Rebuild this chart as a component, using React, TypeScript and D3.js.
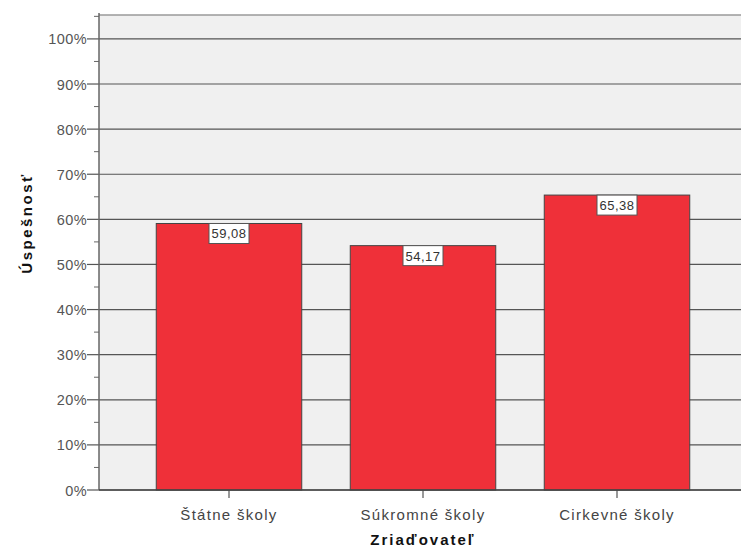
import React from "react";
import * as d3 from "d3";

const categories = ["Štátne školy", "Súkromné školy", "Cirkevné školy"];
const values = [59.08, 54.17, 65.38];
const valueLabels = ["59,08", "54,17", "65,38"];
const yTicks = [0, 10, 20, 30, 40, 50, 60, 70, 80, 90, 100];
const yMinorTicks = [5, 15, 25, 35, 45, 55, 65, 75, 85, 95, 105];

export default function App() {
  const W = 741, H = 550;
  const left = 99, right = 741, top = 15, bottom = 490;
  const y = d3.scaleLinear().domain([0, 105.3]).range([bottom, top]);
  const x = d3.scaleBand<string>().domain(categories).range([132, 714]).paddingInner(0.25).paddingOuter(0.125);
  const font = "Arial, 'Liberation Sans', sans-serif";
  return (
    <svg width={W} height={H} style={{ position: "absolute", left: 0, top: 0 }}>
      <rect x={0} y={0} width={W} height={H} fill="#ffffff" />
      <rect x={left} y={top} width={right - left} height={bottom - top} fill="#f0f0f0" />
      <line x1={left} x2={right} y1={top} y2={top} stroke="#9a9a9a" strokeWidth={1.5} />
      {yTicks.map((t) => (
        <g key={t}>
          <line x1={left} x2={right} y1={y(t)} y2={y(t)} stroke="#555" strokeWidth={1.2} />
          <line x1={87} x2={left} y1={y(t)} y2={y(t)} stroke="#555" strokeWidth={1.2} />
          <text x={87} y={y(t) + 5.5} textAnchor="end" fontFamily={font} fontSize={14.5} fill="#555" letterSpacing={0.4}>
            {t}%
          </text>
        </g>
      ))}
      {yMinorTicks.map((t) => (
        <line key={t} x1={94} x2={left} y1={y(t)} y2={y(t)} stroke="#666" strokeWidth={1} />
      ))}
      {categories.map((c, i) => {
        const bx = x(c)!;
        const bw = x.bandwidth();
        const by = y(values[i]);
        const cx = bx + bw / 2;
        return (
          <g key={c}>
            <rect x={bx} y={by} width={bw} height={bottom - by} fill="#ef3039" stroke="#444" strokeWidth={1} />
            <rect x={cx - 20} y={by} width={40} height={20} fill="#ffffff" stroke="#555" strokeWidth={1} />
            <text x={cx} y={by + 15} textAnchor="middle" fontFamily={font} fontSize={13} fill="#333" letterSpacing={0.5}>
              {valueLabels[i]}
            </text>
            <line x1={cx} x2={cx} y1={bottom} y2={bottom + 8} stroke="#555" strokeWidth={1.2} />
            <text x={cx} y={bottom + 30} textAnchor="middle" fontFamily={font} fontSize={15} fill="#444" letterSpacing={1.3}>
              {c}
            </text>
          </g>
        );
      })}
      <line x1={left} x2={left} y1={top - 2} y2={bottom} stroke="#666" strokeWidth={1.5} />
      <line x1={left} x2={right} y1={bottom} y2={bottom} stroke="#444" strokeWidth={1.5} />
      <text x={423} y={545} textAnchor="middle" fontFamily={font} fontSize={15} fontWeight="bold" fill="#111" letterSpacing={2}>
        Zriaďovateľ
      </text>
      <text transform={`translate(32, 223) rotate(-90)`} textAnchor="middle" fontFamily={font} fontSize={15} fontWeight="bold" fill="#111" letterSpacing={2.5}>
        Úspešnosť
      </text>
    </svg>
  );
}
